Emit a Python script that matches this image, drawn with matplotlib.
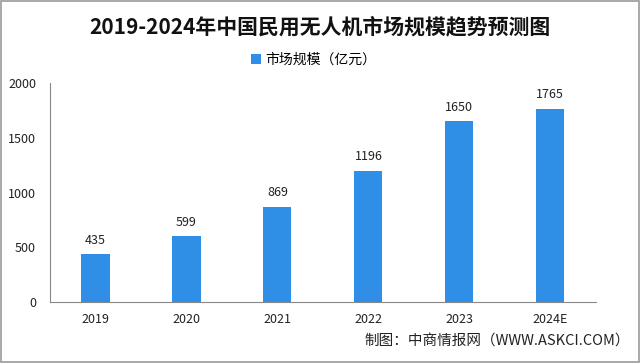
import matplotlib.pyplot as plt
import numpy as np

plt.rcParams['font.family'] = ['Noto Sans CJK SC', 'DejaVu Sans']

years = ['2019', '2020', '2021', '2022', '2023', '2024E']
scale = [435, 599, 869, 1196, 1650, 1765]

fig = plt.figure(figsize=(6.4, 3.63), dpi=100)
ax = fig.add_axes([0.078, 0.168, 0.853, 0.603])

x = np.arange(len(years))
bars = ax.bar(x, scale, width=0.31, color='#2F8FE6', label='市场规模（亿元）')
for xi, v in zip(x, scale):
    ax.text(xi, v + 70, str(v), ha='center', va='bottom', fontsize=9, color='#222222')

ax.set_xlim(-0.5, len(years) - 0.5)
ax.set_ylim(0, 2000)
ax.set_yticks([0, 500, 1000, 1500, 2000])
ax.set_xticks(x)
ax.set_xticklabels(years)
ax.tick_params(axis='both', length=0, labelsize=9, colors='#222222')
ax.tick_params(axis='x', pad=8)
ax.tick_params(axis='y', pad=10)
for s in ['top', 'right']:
    ax.spines[s].set_visible(False)
for s in ['left', 'bottom']:
    ax.spines[s].set_color('#888888')
    ax.spines[s].set_linewidth(0.8)

fig.text(0.5, 0.925, '2019-2024年中国民用无人机市场规模趋势预测图', ha='center', va='center',
         fontsize=15, fontweight='bold', color='#111111')
fig.legend(loc='center', bbox_to_anchor=(0.49, 0.835), frameon=False, fontsize=10,
           handlelength=0.7, handleheight=0.7, handletextpad=0.3)
fig.text(0.985, 0.063, '制图：中商情报网（WWW.ASKCI.COM）', ha='right', va='center',
         fontsize=10.5, color='#222222')

# grey frame around the picture
fig.patches.append(plt.Rectangle((0.002, 0.003), 0.996, 0.994, transform=fig.transFigure,
                                 fill=False, edgecolor='#999999', linewidth=1.2))

fig.savefig('out.png', dpi=100)
